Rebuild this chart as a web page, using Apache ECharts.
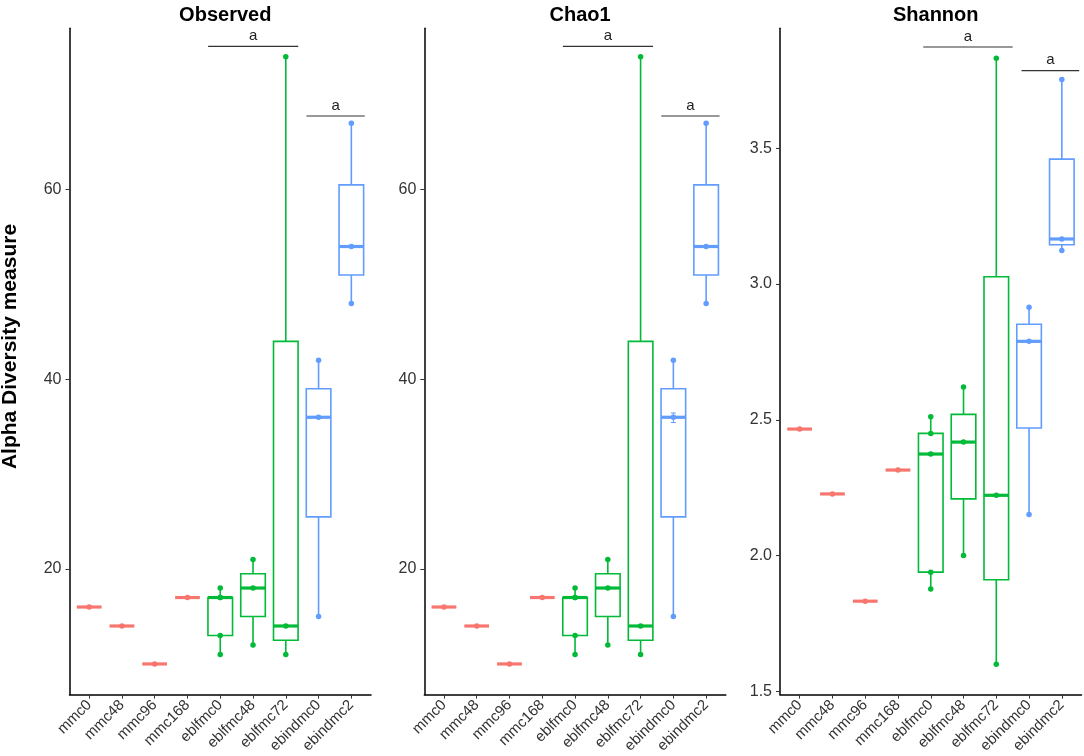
<!DOCTYPE html>
<html>
<head>
<meta charset="utf-8">
<script src="https://cdn.jsdelivr.net/npm/echarts@6/dist/echarts.min.js"></script>
<style>
html,body{margin:0;padding:0;background:#fff;}
#chart{width:1084px;height:756px;}
</style>
</head>
<body>
<div id="chart"></div>
<script>
// ---------- data ----------
const categories = ['mmc0','mmc48','mmc96','mmc168','eblfmc0','eblfmc48','eblfmc72','ebindmc0','ebindmc2'];
const panelTitles = ['Observed','Chao1','Shannon'];

// box stats per category: [min, Q1, median, Q3, max]
const observedBox = [
  [16,16,16,16,16],[14,14,14,14,14],[10,10,10,10,10],[17,17,17,17,17],
  [11,13,17,17,18],[12,15,18,19.5,21],[11,12.5,14,44,74],
  [15,25.5,36,39,42],[48,51,54,60.5,67]
];
const observedPoints = [[16],[14],[10],[17],[11,13,17,17,18],[12,18,21],[11,14,74],[15,36,42],[48,54,67]];

const chao1Box = [
  [16,16,16,16,16],[14,14,14,14,14],[10,10,10,10,10],[17,17,17,17,17],
  [11,13,17,17,18],[12,15,18,19.5,21],[11,12.5,14,44,74],
  [15,25.5,36,39,42],[48,51,54,60.5,67]
];
const chao1Points = [[16],[14],[10],[17],[11,13,17,17,18],[12,18,21],[11,14,74],[15,36,42],[48,54,67]];
// error bars: [category index, low, high]
const chao1ErrorBars = [[7, 35.45, 36.45]];

const shannonBox = [
  [2.466,2.466,2.466,2.466,2.466],[2.227,2.227,2.227,2.227,2.227],
  [1.832,1.832,1.832,1.832,1.832],[2.315,2.315,2.315,2.315,2.315],
  [1.877,1.939,2.374,2.450,2.511],[2.000,2.209,2.418,2.520,2.621],
  [1.600,1.911,2.222,3.027,3.832],[2.151,2.470,2.789,2.852,2.915],
  [3.124,3.145,3.166,3.460,3.753]
];
const shannonPoints = [[2.466],[2.227],[1.832],[2.315],[1.877,1.939,2.374,2.450,2.511],[2.000,2.418,2.621],[1.600,2.222,3.832],[2.151,2.789,2.915],[3.124,3.166,3.753]];

// significance bars: [x start, x end (category units), y]
const observedSig = [[3.63, 6.38, 75.1],[6.63, 8.41, 67.75]];
const chao1Sig = [[3.63, 6.38, 75.1],[6.63, 8.41, 67.75]];
const shannonSig = [[3.77, 6.50, 3.873],[6.77, 8.53, 3.786]];
const sigLabel = 'a';

const observedTicks = [20, 40, 60];
const chao1Ticks = [20, 40, 60];
const shannonTicks = [1.5, 2.0, 2.5, 3.0, 3.5];
const yRanges = [[6.77, 77.0],[6.77, 77.0],[1.488, 3.942]];

// ---------- style ----------
const groupColor = ['#F8766D','#F8766D','#F8766D','#F8766D','#00BA38','#00BA38','#00BA38','#619CFF','#619CFF'];
const FONT = '"Liberation Sans", Arial, Helvetica, sans-serif';
const panelLeft = [69.5, 424.3, 780];
const panelWidth = 301.5;
const gridTop = 28.3, gridBottom = 57;

const panels = [
  {box: observedBox, pts: observedPoints, sig: observedSig, ticks: observedTicks, dec: 0, err: []},
  {box: chao1Box, pts: chao1Points, sig: chao1Sig, ticks: chao1Ticks, dec: 0, err: chao1ErrorBars},
  {box: shannonBox, pts: shannonPoints, sig: shannonSig, ticks: shannonTicks, dec: 1, err: []}
];

const grids = [], xAxes = [], yAxes = [], series = [], titles = [];
const catIdx = categories.map((c, i) => i);

panels.forEach((p, k) => {
  grids.push({left: panelLeft[k], width: panelWidth, top: gridTop, bottom: gridBottom, containLabel: false});
  titles.push({
    text: panelTitles[k], left: panelLeft[k] + panelWidth / 2, top: 0, textAlign: 'center',
    textStyle: {fontFamily: FONT, fontSize: 20, fontWeight: 'bold', color: '#000'}
  });
  xAxes.push({
    type: 'value', gridIndex: k, min: -0.6, max: 8.6,
    splitLine: {show: false},
    axisLine: {show: true, onZero: false, lineStyle: {color: '#000', width: 1.5}},
    axisTick: {show: true, customValues: catIdx, length: 4, lineStyle: {color: '#333', width: 1}},
    axisLabel: {
      show: true, customValues: catIdx, rotate: 45, margin: 8,
      fontFamily: FONT, fontSize: 15, color: '#333',
      formatter: v => categories[Math.round(v)]
    }
  });
  yAxes.push({
    type: 'value', gridIndex: k, min: yRanges[k][0], max: yRanges[k][1],
    splitLine: {show: false},
    axisLine: {show: true, onZero: false, lineStyle: {color: '#000', width: 1.5}},
    axisTick: {show: true, customValues: p.ticks, length: 4, lineStyle: {color: '#333', width: 1}},
    axisLabel: {
      show: true, customValues: p.ticks, margin: 8,
      fontFamily: FONT, fontSize: 16, color: '#333',
      formatter: v => Number(v).toFixed(p.dec)
    }
  });

  // boxes
  series.push({
    type: 'custom', xAxisIndex: k, yAxisIndex: k, z: 2,
    data: p.box.map((b, i) => [i].concat(b)),
    encode: {x: 0, y: [1, 2, 3, 4, 5]},
    renderItem: function (params, api) {
      const i = api.value(0);
      const col = groupColor[i];
      const hw = api.size([1, 0])[0] * 0.375;
      const pMin = api.coord([i, api.value(1)]);
      const pQ1 = api.coord([i, api.value(2)]);
      const pMed = api.coord([i, api.value(3)]);
      const pQ3 = api.coord([i, api.value(4)]);
      const pMax = api.coord([i, api.value(5)]);
      const x = pMed[0];
      const ls = {stroke: col, lineWidth: 1.6, fill: null};
      return {
        type: 'group',
        children: [
          {type: 'line', shape: {x1: x, y1: pMin[1], x2: x, y2: pQ1[1]}, style: ls},
          {type: 'line', shape: {x1: x, y1: pQ3[1], x2: x, y2: pMax[1]}, style: ls},
          {type: 'rect', shape: {x: x - hw, y: pQ3[1], width: 2 * hw, height: pQ1[1] - pQ3[1]},
           style: {stroke: col, lineWidth: 1.6, fill: '#fff'}},
          {type: 'line', shape: {x1: x - hw, y1: pMed[1], x2: x + hw, y2: pMed[1]},
           style: {stroke: col, lineWidth: 3.2}}
        ]
      };
    }
  });

  // error bars
  if (p.err.length) {
    series.push({
      type: 'custom', xAxisIndex: k, yAxisIndex: k, z: 3,
      data: p.err,
      encode: {x: 0, y: [1, 2]},
      renderItem: function (params, api) {
        const i = api.value(0);
        const col = groupColor[i];
        const lo = api.coord([i, api.value(1)]);
        const hi = api.coord([i, api.value(2)]);
        const x = lo[0], cw = 2.5;
        const st = {stroke: col, lineWidth: 1};
        return {type: 'group', children: [
          {type: 'line', shape: {x1: x, y1: lo[1], x2: x, y2: hi[1]}, style: st},
          {type: 'line', shape: {x1: x - cw, y1: lo[1], x2: x + cw, y2: lo[1]}, style: st},
          {type: 'line', shape: {x1: x - cw, y1: hi[1], x2: x + cw, y2: hi[1]}, style: st}
        ]};
      }
    });
  }

  // points
  const ptData = [];
  p.pts.forEach((arr, i) => arr.forEach(v => ptData.push([i, v])));
  series.push({
    type: 'scatter', xAxisIndex: k, yAxisIndex: k, z: 4,
    symbol: 'circle', symbolSize: 5.5,
    data: ptData,
    itemStyle: {color: params => groupColor[params.data[0]], opacity: 1},
    emphasis: {disabled: true}
  });

  // significance annotations
  series.push({
    type: 'custom', xAxisIndex: k, yAxisIndex: k, z: 5,
    data: p.sig,
    encode: {x: [0, 1], y: 2},
    renderItem: function (params, api) {
      const a = api.coord([api.value(0), api.value(2)]);
      const b = api.coord([api.value(1), api.value(2)]);
      return {type: 'group', children: [
        {type: 'line', shape: {x1: a[0], y1: a[1], x2: b[0], y2: b[1]}, style: {stroke: '#333', lineWidth: 1.1}},
        {type: 'text', x: (a[0] + b[0]) / 2, y: a[1] - 3,
         style: {text: sigLabel, textAlign: 'center', textVerticalAlign: 'bottom',
                 fontFamily: FONT, fontSize: 15, fill: '#222'}}
      ]};
    }
  });
});

const chart = echarts.init(document.getElementById('chart'), null, {renderer: 'canvas'});
chart.setOption({
  backgroundColor: '#fff',
  animation: false,
  title: titles,
  grid: grids,
  xAxis: xAxes,
  yAxis: yAxes,
  series: series,
  graphic: [{
    type: 'text', x: 10, y: 346.5, rotation: Math.PI / 2,
    style: {text: 'Alpha Diversity measure', textAlign: 'center', textVerticalAlign: 'middle',
            fontFamily: FONT, fontSize: 21, fontWeight: 'bold', fill: '#000'}
  }]
});
</script>
</body>
</html>
